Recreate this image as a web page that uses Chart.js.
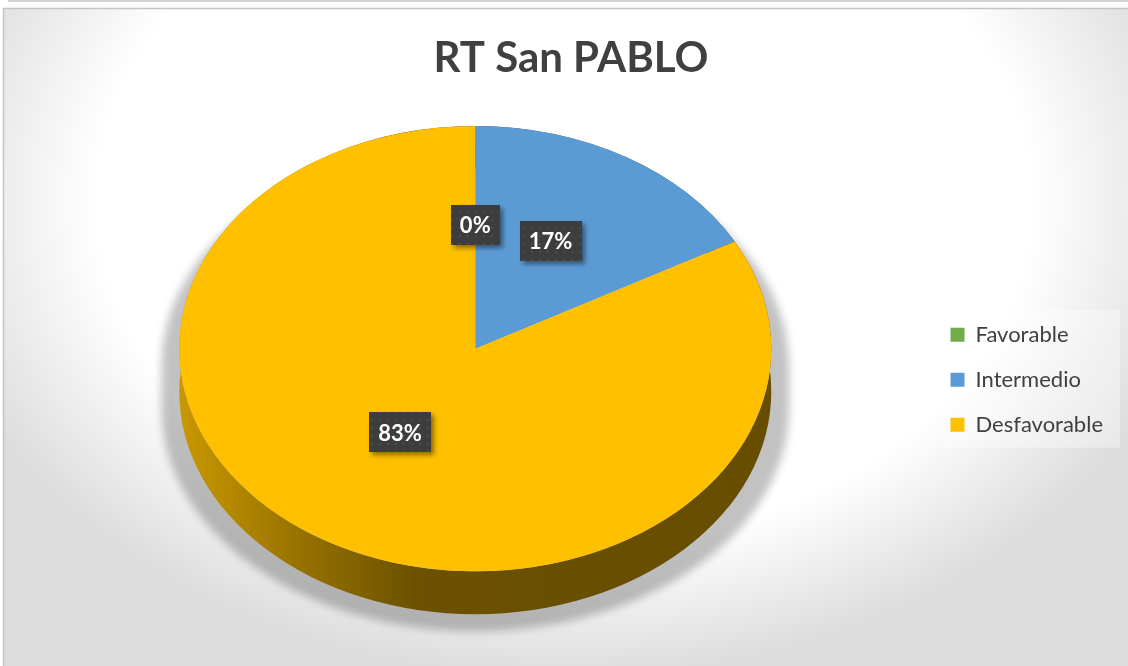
<!DOCTYPE html>
<html>
<head>
<meta charset="utf-8">
<title>RT San PABLO</title>
<script src="https://cdn.jsdelivr.net/npm/chart.js@4.4.1/dist/chart.umd.min.js"></script>
<style>
    html, body { margin: 0; padding: 0; background: #fff; overflow: hidden; }
    #wrap { position: relative; width: 1128px; height: 666px; }
</style>
</head>
<body>
<div id="wrap"><canvas id="myChart"></canvas></div>
<script>
const labels = ['Favorable', 'Intermedio', 'Desfavorable'];
const values = [0, 17, 83];
const colors = ['#70AD47', '#5B9BD5', '#FFC000'];

// look of the fake 3d
const TILT = 0.752;          // squash of the top face
const DEPTH = 43;            // height of the side in px
const PIE_SHIFT = { x: -3, y: -31 };
const LABEL_RAISE = -12;

function shade(hex, f) {
    const n = parseInt(hex.slice(1), 16);
    const r = Math.round(((n >> 16) & 255) * f);
    const g = Math.round(((n >> 8) & 255) * f);
    const b = Math.round((n & 255) * f);
    return `rgb(${r},${g},${b})`;
}

// dotted fill used behind the data labels
const dots = document.createElement('canvas');
dots.width = 8; dots.height = 8;
const dctx = dots.getContext('2d');
dctx.fillStyle = '#3d3d3d';
dctx.fillRect(0, 0, 8, 8);
dctx.fillStyle = '#4c4c4c';
dctx.fillRect(3, 3, 2, 2);

const background = {
    id: 'background',
    beforeDraw(chart) {
        const { ctx, width, height } = chart;
        ctx.save();
        ctx.fillStyle = '#fff';
        ctx.fillRect(0, 0, width, height);
        // soft grey edges
        ctx.save();
        ctx.translate(width / 2, 200);
        ctx.scale(1, 480 / 650);
        const g = ctx.createRadialGradient(0, 0, 0, 0, 0, 650);
        g.addColorStop(0, '#ffffff');
        g.addColorStop(0.72, '#ffffff');
        g.addColorStop(1, '#dcdcdc');
        ctx.fillStyle = g;
        ctx.fillRect(-width, -height * 2, width * 2, height * 4);
        ctx.restore();
        ctx.fillStyle = '#fff';
        ctx.fillRect(0, 0, width, 8);
        ctx.fillRect(0, 0, 3, height);
        ctx.strokeStyle = '#c4c4c4';
        ctx.lineWidth = 1.5;
        ctx.beginPath();
        ctx.moveTo(3.5, height);
        ctx.lineTo(3.5, 8.5);
        ctx.lineTo(width, 8.5);
        ctx.stroke();
        ctx.beginPath();
        ctx.moveTo(8, 1);
        ctx.lineTo(width, 1);
        ctx.stroke();

        // legend panel
        const boxes = chart.legend.legendHitBoxes;
        if (boxes && boxes.length) {
            const x0 = Math.min(...boxes.map(b => b.left)) - 8;
            const y0 = Math.min(...boxes.map(b => b.top)) - 14;
            const x1 = Math.max(...boxes.map(b => b.left + b.width)) + 17;
            const y1 = Math.max(...boxes.map(b => b.top + b.height)) + 12;
            ctx.fillStyle = 'rgba(255,255,255,0.35)';
            ctx.fillRect(x0, y0, x1 - x0, y1 - y0);
        }
        ctx.restore();
    }
};

const pie3d = {
    id: 'pie3d',
    beforeDatasetsDraw(chart) {
        const ctx = chart.ctx;
        const arcs = chart.getDatasetMeta(0).data;
        const a0 = arcs[0];
        const r = a0.outerRadius;
        const cx = a0.x + PIE_SHIFT.x;
        const cy = a0.y + PIE_SHIFT.y;

        // shadow on the floor
        ctx.save();
        ctx.filter = 'blur(4px)';
        ctx.fillStyle = 'rgba(0,0,0,0.24)';
        ctx.beginPath();
        ctx.ellipse(cx, cy + 17, r * 1.06, r * TILT, 0, Math.PI, 0);
        ctx.ellipse(cx, cy + 17 + DEPTH, r * 1.06, r * TILT, 0, 0, Math.PI);
        ctx.closePath();
        ctx.fill();
        ctx.restore();

        ctx.save();
        ctx.translate(PIE_SHIFT.x, cy);
        ctx.scale(1, TILT);
        ctx.translate(0, -a0.y);
        const du = DEPTH / TILT;
        arcs.forEach((arc, i) => {
            if (arc.endAngle - arc.startAngle <= 0) return;
            const c = colors[i];
            const g = ctx.createLinearGradient(a0.x - r, 0, a0.x + r, 0);
            g.addColorStop(0, shade(c, 0.79));
            g.addColorStop(0.23, shade(c, 0.57));
            g.addColorStop(0.4, shade(c, 0.42));
            g.addColorStop(1, shade(c, 0.4));
            ctx.fillStyle = g;
            ctx.beginPath();
            ctx.arc(a0.x, a0.y, r, arc.startAngle, arc.endAngle);
            ctx.arc(a0.x, a0.y + du, r, arc.endAngle, arc.startAngle, true);
            ctx.closePath();
            ctx.fill();
        });
        // the library draws the top face inside this transform
    },
    afterDatasetsDraw(chart) {
        const ctx = chart.ctx;
        ctx.restore();
        const arcs = chart.getDatasetMeta(0).data;
        const total = values.reduce((s, v) => s + v, 0);
        const a0 = arcs[0];
        const cy = a0.y + PIE_SHIFT.y;
        ctx.save();
        ctx.font = 'bold 22px Lato';
        ctx.textAlign = 'center';
        ctx.textBaseline = 'middle';
        arcs.forEach((arc, i) => {
            const p = arc.tooltipPosition();
            const x = p.x + PIE_SHIFT.x;
            const y = cy + (p.y - a0.y) * TILT + LABEL_RAISE;
            const text = Math.round(values[i] / total * 100) + '%';
            const w = ctx.measureText(text).width + 18;
            const h = 40;
            ctx.save();
            ctx.shadowColor = 'rgba(0,0,0,0.45)';
            ctx.shadowBlur = 5;
            ctx.shadowOffsetX = 3;
            ctx.shadowOffsetY = 3;
            ctx.fillStyle = ctx.createPattern(dots, 'repeat');
            ctx.fillRect(Math.round(x - w / 2), Math.round(y - h / 2), Math.round(w), h);
            ctx.restore();
            ctx.fillStyle = '#fff';
            ctx.fillText(text, x, y + 1);
        });
        ctx.restore();
    }
};

const ctx = document.getElementById('myChart');

new Chart(ctx, {
    type: 'pie',
    data: {
        labels: labels,
        datasets: [{
            data: values,
            backgroundColor: colors,
            borderWidth: 0,
            radius: 296,
            clip: false
        }]
    },
    options: {
        responsive: true,
        maintainAspectRatio: false,
        animation: false,
        layout: { padding: { left: 29, right: 15, top: 0, bottom: 0 } },
        plugins: {
            title: {
                display: true,
                text: 'RT San PABLO',
                color: '#404040',
                font: { family: 'Lato', size: 42, weight: 'bold' },
                padding: { top: 33, bottom: 10 }
            },
            legend: {
                position: 'right',
                fullSize: false,
                labels: {
                    boxWidth: 14,
                    boxHeight: 14,
                    padding: 23,
                    color: '#404040',
                    font: { family: 'Lato', size: 22 }
                }
            },
            tooltip: { enabled: false }
        }
    },
    plugins: [background, pie3d]
});
</script>
</body>
</html>
